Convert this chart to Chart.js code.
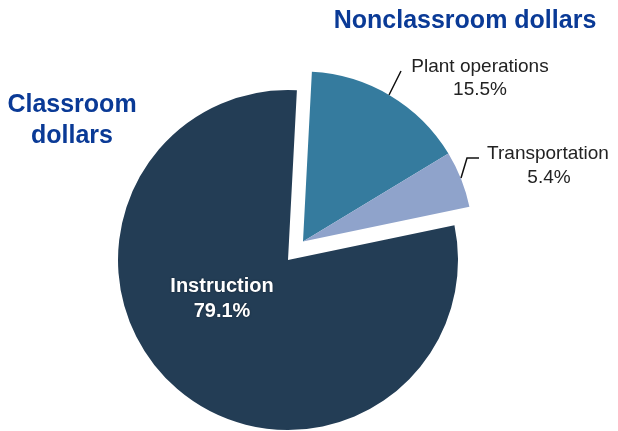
<!DOCTYPE html>
<html>
<head>
<meta charset="utf-8">
<script src="https://cdn.jsdelivr.net/npm/chart.js@4"></script>
<style>
  html, body { margin: 0; padding: 0; background: #ffffff; }
  #wrap { width: 618px; height: 431px; position: relative; }
</style>
</head>
<body>
<div id="wrap"><canvas id="spendChart"></canvas></div>
<script>
// spending shares
const categories = ['Plant operations', 'Transportation', 'Instruction'];
const shares = [15.5, 5.4, 79.1];
const sliceColors = ['#357b9e', '#8fa3cb', '#233d55'];
const explodedSlices = [0, 1]; // nonclassroom slices pulled out together

const ctx = document.getElementById('spendChart').getContext('2d');

// push the nonclassroom slices out as one block
const explodePlugin = {
    id: 'explode',
    beforeDatasetsDraw(chart) {
        const meta = chart.getDatasetMeta(0);
        const base = meta.data[2];
        explodedSlices.forEach(i => {
            meta.data[i].x = base.x + 15;
            meta.data[i].y = base.y - 18.5;
        });
    }
};

// headings, slice labels and leader lines
const labelPlugin = {
    id: 'labels',
    afterDraw(chart) {
        const c = chart.ctx;
        c.save();
        c.textAlign = 'center';
        c.textBaseline = 'alphabetic';

        c.fillStyle = '#0a3a96';
        c.font = 'bold 25px "Liberation Sans", Arial, sans-serif';
        c.fillText('Nonclassroom dollars', 465, 28);
        c.fillText('Classroom', 72, 112);
        c.fillText('dollars', 72, 143);

        c.fillStyle = '#222222';
        c.font = '19px "Liberation Sans", Arial, sans-serif';
        c.fillText(categories[0], 480, 72);
        c.fillText(shares[0].toFixed(1) + '%', 480, 95);
        c.fillText(categories[1], 548, 159);
        c.fillText(shares[1].toFixed(1) + '%', 549, 183);

        c.strokeStyle = '#111111';
        c.lineWidth = 1.5;
        c.beginPath();
        c.moveTo(401, 71);
        c.lineTo(389, 95);
        c.moveTo(479, 158);
        c.lineTo(467, 158);
        c.lineTo(461, 178);
        c.stroke();

        c.fillStyle = '#ffffff';
        c.shadowColor = 'rgba(0,0,0,0.5)';
        c.shadowBlur = 2;
        c.font = 'bold 20px "Liberation Sans", Arial, sans-serif';
        c.fillText(categories[2], 222, 292);
        c.fillText(shares[2].toFixed(1) + '%', 222, 317);
        c.restore();
    }
};

const spendChart = new Chart(ctx, {
    type: 'pie',
    data: {
        labels: categories,
        datasets: [{
            data: shares,
            backgroundColor: sliceColors,
            borderWidth: 0
        }]
    },
    options: {
        responsive: true,
        maintainAspectRatio: false,
        animation: false,
        events: [],
        rotation: 3,
        layout: {
            padding: { left: 118, right: 160, top: 90, bottom: 1 }
        },
        plugins: {
            legend: { display: false },
            tooltip: { enabled: false }
        }
    },
    plugins: [explodePlugin, labelPlugin]
});
</script>
</body>
</html>
